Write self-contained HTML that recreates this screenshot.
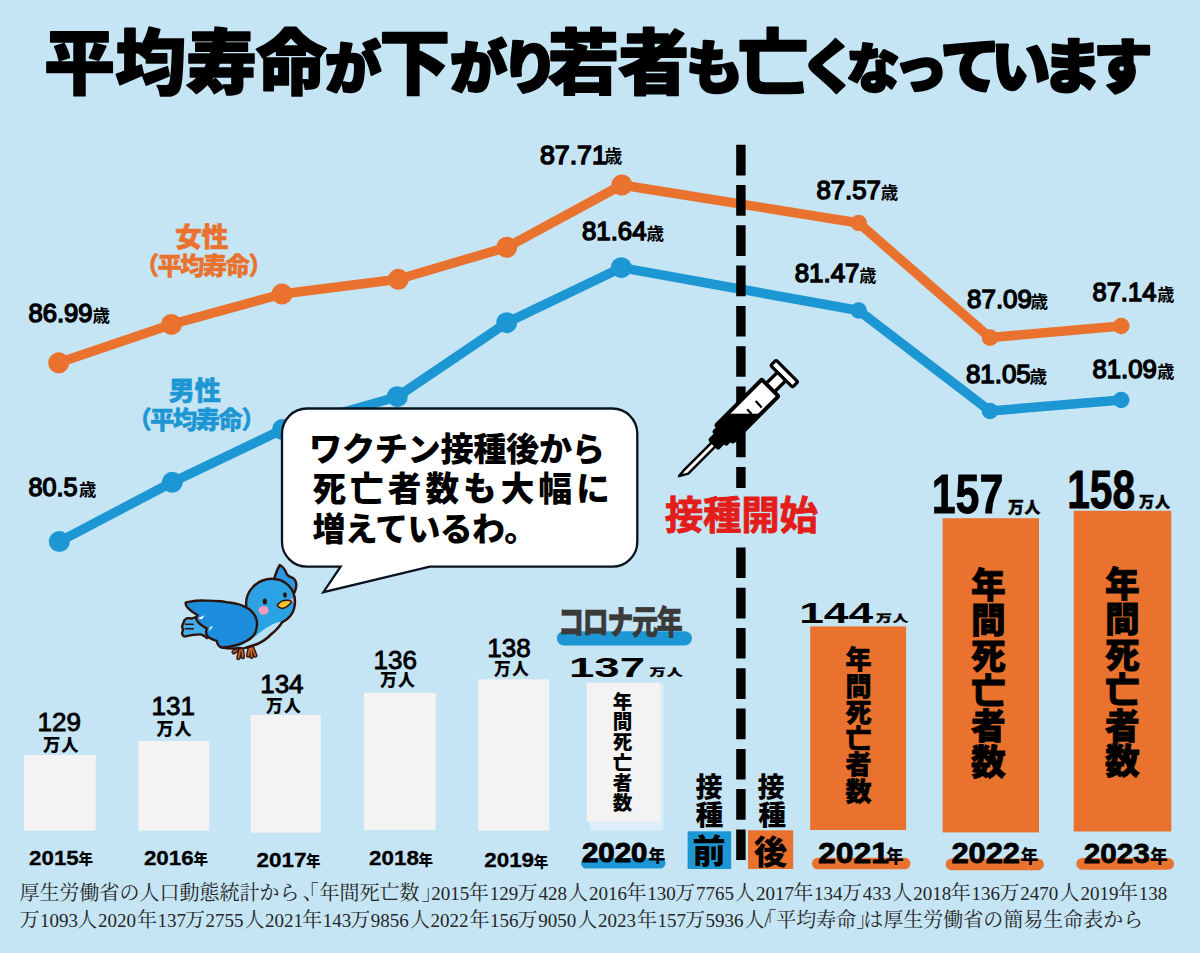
<!DOCTYPE html>
<html lang="ja"><head><meta charset="utf-8"><title>平均寿命と年間死亡者数</title><style>html,body{margin:0;padding:0;background:#c5e4f4;font-family:"Liberation Sans",sans-serif;overflow:hidden}svg{display:block}svg text{font-family:"Liberation Sans","Noto Sans CJK JP",sans-serif}svg text.s{font-family:"Liberation Serif","Noto Serif CJK SC",serif}</style></head><body><svg width="1200" height="953" viewBox="0 0 1200 953" role="img" aria-label="平均寿命と年間死亡者数のグラフ"><rect width="1200" height="953" fill="#c5e4f4"/><g fill="#000" stroke="#000" stroke-linejoin="round" font-weight="900"><text y="88.3" font-size="71" stroke-width="1.7"><tspan x="44.1">平</tspan><tspan x="115.3">均</tspan><tspan x="186.1">寿</tspan><tspan x="255.8">命</tspan><tspan x="324.9" font-size="56" stroke-width="2.5">が</tspan><tspan x="379.3">下</tspan><tspan x="449.9" font-size="57" stroke-width="2.5">が</tspan><tspan x="501.4" font-size="57" stroke-width="2.5">り</tspan><tspan x="548.1">若</tspan><tspan x="618.2">者</tspan><tspan x="686" font-size="57" stroke-width="2.5">も</tspan><tspan x="737.6">亡</tspan><tspan x="800" font-size="58" stroke-width="2.5">く</tspan><tspan x="846.6" font-size="53" stroke-width="2.4">な</tspan><tspan x="893.8" font-size="54" stroke-width="2.4">っ</tspan><tspan x="940.4" font-size="60" stroke-width="2.6">て</tspan><tspan x="991.2" font-size="59" stroke-width="2.6">い</tspan><tspan x="1042.6" font-size="59" stroke-width="2.6">ま</tspan><tspan x="1093.6" font-size="59" stroke-width="2.6">す</tspan></text></g><path d="M59.3 541.6L172.2 482.3L282.5 429.5L397.3 396.7L506.7 322.7L621.3 267.7L858.7 310.5L990.0 411.0L1121.2 400.0" fill="none" stroke="#1d97d3" stroke-width="9.5" stroke-linejoin="round" stroke-linecap="round"/><circle cx="59.3" cy="541.6" r="10.5" fill="#1d97d3"/><circle cx="172.2" cy="482.3" r="10.5" fill="#1d97d3"/><circle cx="282.5" cy="429.5" r="10.5" fill="#1d97d3"/><circle cx="397.3" cy="396.7" r="10.5" fill="#1d97d3"/><circle cx="506.7" cy="322.7" r="10.5" fill="#1d97d3"/><circle cx="621.3" cy="267.7" r="10.5" fill="#1d97d3"/><circle cx="858.7" cy="310.5" r="8.3" fill="#1d97d3"/><circle cx="990.0" cy="411.0" r="8.3" fill="#1d97d3"/><circle cx="1121.2" cy="400.0" r="8.3" fill="#1d97d3"/><path d="M58.7 362.8L171.4 324.4L282.0 294.0L398.3 279.3L506.7 247.3L621.8 185.0L858.7 223.0L990.0 337.6L1121.2 326.0" fill="none" stroke="#e9722e" stroke-width="9.5" stroke-linejoin="round" stroke-linecap="round"/><circle cx="58.7" cy="362.8" r="10.5" fill="#e9722e"/><circle cx="171.4" cy="324.4" r="10.5" fill="#e9722e"/><circle cx="282.0" cy="294.0" r="10.5" fill="#e9722e"/><circle cx="398.3" cy="279.3" r="10.5" fill="#e9722e"/><circle cx="506.7" cy="247.3" r="10.5" fill="#e9722e"/><circle cx="621.8" cy="185.0" r="10.5" fill="#e9722e"/><circle cx="858.7" cy="223.0" r="8.3" fill="#e9722e"/><circle cx="990.0" cy="337.6" r="8.3" fill="#e9722e"/><circle cx="1121.2" cy="326.0" r="8.3" fill="#e9722e"/><path d="M740.9 144.8V175.4M740.9 185.1V215.7M740.9 225.3V255.9M740.9 265.6V296.2M740.9 305.9V336.5M740.9 346.2V376.8M740.9 386.4V417.0M740.9 426.7V457.3M740.9 467.0V488.0M740.9 547.5V578.1M740.9 587.8V618.4M740.9 628.0V658.6M740.9 668.3V698.9M740.9 708.6V739.2M740.9 748.9V779.5M740.9 789.1V819.7M740.9 829.4V860.0" stroke="#000" stroke-width="9.4" fill="none"/><g fill="#000"><text x="28.5" y="322.1" font-size="25.6" stroke="#000" stroke-width="1.4">86.99</text><text x="92.6" y="322" font-size="17.5" font-weight="bold">歳</text><text x="28.5" y="496.3" font-size="25.2" stroke="#000" stroke-width="1.4">80.5</text><text x="78.9" y="496.2" font-size="17.4" font-weight="bold">歳</text><text x="540" y="163.5" font-size="26.7" stroke="#000" stroke-width="1.5">87.71</text><text x="604.4" y="163.4" font-size="17.8" font-weight="bold">歳</text><text x="582" y="240.4" font-size="25.8" stroke="#000" stroke-width="1.4">81.64</text><text x="646.5" y="240.3" font-size="17.6" font-weight="bold">歳</text><text x="816.4" y="198.7" font-size="25.8" stroke="#000" stroke-width="1.4">87.57</text><text x="880.8" y="198.6" font-size="17.5" font-weight="bold">歳</text><text x="794.7" y="281.8" font-size="25.9" stroke="#000" stroke-width="1.4">81.47</text><text x="859.2" y="281.7" font-size="17.2" font-weight="bold">歳</text><text x="967.1" y="308.1" font-size="25.9" stroke="#000" stroke-width="1.4">87.09</text><text x="1030.6" y="308" font-size="17.6" font-weight="bold">歳</text><text x="1092.5" y="301.1" font-size="25.5" stroke="#000" stroke-width="1.4">87.14</text><text x="1157.2" y="301" font-size="17.2" font-weight="bold">歳</text><text x="965.9" y="383.1" font-size="25.9" stroke="#000" stroke-width="1.4">81.05</text><text x="1029.6" y="383" font-size="17.6" font-weight="bold">歳</text><text x="1092.5" y="378.1" font-size="25.7" stroke="#000" stroke-width="1.4">81.09</text><text x="1157.2" y="378" font-size="17.2" font-weight="bold">歳</text></g><g fill="#e9722e" stroke="#e9722e" stroke-width="0.38" stroke-linejoin="round" font-weight="900"><text x="174.9" y="246.9" font-size="27" letter-spacing="-0.5">女性</text></g><g fill="#e9722e" stroke="#e9722e" stroke-width="0.35" stroke-linejoin="round" font-weight="900"><text x="134.7" y="275.3" font-size="24.6" letter-spacing="-1.9">（平均寿命）</text></g><g fill="#1d97d3" stroke="#1d97d3" stroke-width="0.37" stroke-linejoin="round" font-weight="900"><text x="168.6" y="399.6" font-size="26.4" letter-spacing="-0.5">男性</text></g><g fill="#1d97d3" stroke="#1d97d3" stroke-width="0.35" stroke-linejoin="round" font-weight="900"><text x="127.2" y="428.5" font-size="24.7" letter-spacing="-1.9">（平均寿命）</text></g><g transform="translate(783.9 374.1) rotate(135)"><path d="M96 -2.7L138 -2.7L146.3 2.0L139 2.7L96 2.7Z" fill="#fff" stroke="#000" stroke-width="2.5" stroke-linejoin="round"/><rect x="83" y="-10.5" width="9" height="21" rx="2.5" fill="#000"/><rect x="90" y="-7.5" width="10.5" height="15" rx="2.5" fill="#000"/><rect x="3" y="-5.9" width="17" height="11.8" fill="#fff" stroke="#000" stroke-width="3.4"/><rect x="-4.4" y="-15.4" width="7.6" height="30.8" rx="1.5" fill="#fff" stroke="#000" stroke-width="3.2" stroke-linejoin="round"/><rect x="19.5" y="-11.8" width="64.5" height="23.6" rx="1.2" fill="#fff" stroke="#000" stroke-width="4" stroke-linejoin="round"/></g><clipPath id="bar"><rect x="19.5" y="-11.8" width="64.5" height="23.6" transform="translate(783.9 374.1) rotate(135)"/></clipPath><rect x="690" y="413.7" width="120" height="80" fill="#000" clip-path="url(#bar)"/><path d="M755.7 401.1L761.7 407.5M747.1 409.3L751.6 413.9" stroke="#000" stroke-width="2.2" fill="none"/><path d="M307.0 408.5H612.3A25 25 0 0 1 637.3 433.5V541.7A25 25 0 0 1 612.3 566.7H429.8L323.4 592.2L340.6 566.7H307.0A25 25 0 0 1 282.0 541.7V433.5A25 25 0 0 1 307.0 408.5Z" fill="#fff" stroke="#08131f" stroke-width="2.3" stroke-linejoin="miter"/><g fill="#000" font-weight="900"><text x="309.1" y="460.5" font-size="33.2" letter-spacing="-0.35">ワクチン接種後から</text></g><g fill="#000" font-weight="900"><text x="312.4" y="500.8" font-size="33.6" letter-spacing="4.1">死亡者数も大幅に</text></g><g fill="#000" font-weight="900"><text x="312.5" y="540.7" font-size="32.9" letter-spacing="-0.65">増えているわ。</text></g>
<g transform="translate(160 540) scale(0.15)" stroke="#2e130a" stroke-width="16" stroke-linejoin="round" stroke-linecap="round">
 <path d="M535 712L492 748M538 716L523 786M545 716L552 780M600 712L588 770M605 714L611 778M612 712L635 770" stroke="#33160c" stroke-width="30" fill="none"/>
 <path d="M535 712L492 748M538 716L523 786M545 716L552 780M600 712L588 770M605 714L611 778M612 712L635 770" stroke="#c8682a" stroke-width="11" fill="none"/>
 <path d="M250 522C230 509 222 523 211 523C200 523 191 519 183 521C175 523 170 528 165 533C160 538 158 548 156 553C154 558 151 562 150 566C149 570 148 572 148 578C148 584 153 593 153 600C153 607 147 614 147 620C147 626 150 630 152 634C154 638 152 643 162 643C172 643 194 636 211 634C228 632 253 628 267 629C281 630 286 636 295 640C304 644 312 659 318 652C324 645 341 622 330 600C319 578 270 535 250 522Z" fill="#45adea"/>
 <path d="M170 561H222M168 592H222" fill="none" stroke-width="10"/>
 <path d="M760 262C772 222 786 186 799 167C822 180 836 201 845 228C858 246 880 250 891 257C905 270 910 291 908 310C906 325 902 338 897 350Z" fill="#2a97e2"/>
 <path d="M575 440C565 340 650 258 745 258C835 258 900 325 900 410C900 470 870 520 815 548C790 585 760 615 736 632C700 670 650 700 572 717C520 725 450 725 411 716C380 680 560 560 575 440Z" fill="#2aa2e4"/>
 <path d="M808 545C770 545 710 580 660 622C615 658 565 695 520 712C545 716 580 715 600 710C660 698 710 665 745 625C770 598 795 575 808 545Z" fill="#b9e1f6" stroke="none"/>
 <path d="M815 548C790 585 760 615 736 632C700 670 650 700 572 717" fill="none"/>
 <path d="M172 417C183 415 215 407 240 405C265 403 295 404 322 404C349 404 377 406 400 408C423 410 441 414 461 417C481 420 504 424 520 428C536 432 544 435 556 441C568 447 584 454 595 462C606 470 614 479 622 489C630 499 636 509 640 520C644 531 646 543 647 555C648 567 645 579 643 590C641 601 638 612 633 622C628 632 619 642 610 650C601 658 590 665 578 672C566 679 550 686 535 692C520 698 503 702 489 705C475 708 463 711 450 713C437 715 420 717 411 716C402 715 398 710 393 706C388 702 385 693 383 690L378 672C350 664 322 652 312 636C306 620 308 600 311 589C285 575 255 555 245 535C240 520 244 508 250 500C215 480 185 458 175 438C171 430 170 422 172 417Z" fill="#1c8edd"/>
 <path d="M253 521L296 502L280 528ZM325 612L354 574L334 580Z" fill="#fff" stroke="none"/>
 <ellipse cx="691" cy="469" rx="33" ry="29" fill="#f59bc0" stroke="none"/>
 <ellipse cx="880" cy="404" rx="11" ry="15" fill="#f59bc0" stroke="none"/>
 <ellipse cx="699" cy="410" rx="14" ry="20" fill="#2a1208" stroke="none"/>
 <ellipse cx="833" cy="367" rx="13" ry="18" fill="#2a1208" stroke="none"/>
 <path d="M781 435C795 418 805 410 815 406C835 400 855 400 868 404C874 406 878 409 877 413C868 428 855 440 841 448C830 454 822 457 812 456C798 452 786 445 781 435Z" fill="#f8c32a" stroke-width="10"/>
</g>
<g fill="#e21d1a" stroke="#e21d1a" stroke-width="0.8" stroke-linejoin="round" font-weight="bold"><text x="664.8" y="529.3" font-size="38.5" letter-spacing="-0.3">接種開始</text></g><g fill="#f3f3f3"><rect x="24.0" y="755.0" width="71.7" height="75.7"/><rect x="138.3" y="741.0" width="71.0" height="89.7"/><rect x="250.7" y="715.0" width="70.0" height="117.7"/><rect x="364.0" y="692.7" width="71.7" height="137.3"/><rect x="478.3" y="679.3" width="71.0" height="151.4"/></g><rect x="590" y="684" width="73.5" height="146.5" fill="#deeef8"/><rect x="586.7" y="682.7" width="73.3" height="139" fill="#f3f3f3"/><g fill="#e9722e"><rect x="810.2" y="626.4" width="95.9" height="203.6"/><rect x="942.6" y="518.2" width="96.4" height="314.2"/><rect x="1073.7" y="510.8" width="97.6" height="320.7"/></g><g fill="#000" stroke="#000" stroke-width="0.9"><text x="59.2" y="731.3" font-size="26" text-anchor="middle">129</text></g><g fill="#000" font-weight="900"><text x="43.1" y="751.1" font-size="17.4" letter-spacing="0.7">万人</text></g><g fill="#000" stroke="#000" stroke-width="0.9"><text x="173.2" y="715.3" font-size="26" text-anchor="middle">131</text></g><g fill="#000" font-weight="900"><text x="156.5" y="735.4" font-size="17.1" letter-spacing="0.8">万人</text></g><g fill="#000" stroke="#000" stroke-width="0.9"><text x="281.9" y="693" font-size="26" text-anchor="middle">134</text></g><g fill="#000" font-weight="900"><text x="266.1" y="711.5" font-size="16.8" letter-spacing="1.1">万人</text></g><g fill="#000" stroke="#000" stroke-width="0.9"><text x="395.2" y="669" font-size="26" text-anchor="middle">136</text></g><g fill="#000" font-weight="900"><text x="380.1" y="686.4" font-size="17" letter-spacing="0.9">万人</text></g><g fill="#000" stroke="#000" stroke-width="0.9"><text x="509" y="657" font-size="26" text-anchor="middle">138</text></g><g fill="#000" font-weight="900"><text x="494.1" y="675.2" font-size="16.8" letter-spacing="1.1">万人</text></g><path d="M564.1 638.4H684.7" stroke="#1d97d3" stroke-width="14.4" stroke-linecap="round"/><g fill="#3a3a3a" stroke="#3a3a3a" stroke-width="0.5" font-weight="900"><text transform="translate(557.93 633.81) scale(0.783 1)" font-size="33.5" letter-spacing="-2">コロナ元年</text></g><text x="569" y="676.9" font-size="28" font-weight="bold" textLength="76" lengthAdjust="spacingAndGlyphs">137</text><g fill="#000" stroke="#000" stroke-width="0.25" font-weight="900"><text transform="translate(649.52 676.36) scale(1.569 1)" font-size="10.25" letter-spacing="0.8">万人</text></g><g fill="#000" font-weight="900"><text font-size="19.5"><tspan x="612.75" y="709.05">年</tspan><tspan x="612.75" y="729.23">間</tspan><tspan x="612.75" y="749.41">死</tspan><tspan x="612.75" y="769.58">亡</tspan><tspan x="612.75" y="789.76">者</tspan><tspan x="612.75" y="809.94">数</tspan></text></g><path d="M586.3 863.3H660.2" stroke="#1d97d3" stroke-width="10.5" stroke-linecap="round"/><g fill="#000" stroke="#000" stroke-width="1" font-weight="bold"><text x="582" y="861.8" font-size="28.5" textLength="65.3" lengthAdjust="spacingAndGlyphs">2020</text></g><text x="648.2" y="861.7" font-size="17" font-weight="900">年</text><text x="799.2" y="623.4" font-size="29" font-weight="bold" textLength="74" lengthAdjust="spacingAndGlyphs">144</text><g fill="#000" stroke="#000" stroke-width="0.25" font-weight="900"><text transform="translate(876.03 622.27) scale(1.568 1)" font-size="10.14" letter-spacing="0.4">万人</text></g><g fill="#000" stroke="#000" stroke-width="0.9" font-weight="bold"><text transform="translate(931.66 513.37) scale(0.7845 1)" font-size="54.7">157</text></g><g fill="#000" stroke="#000" stroke-width="0.4" font-weight="900"><text x="1008" y="512.5" font-size="15.8" letter-spacing="0.7">万人</text></g><g fill="#000" stroke="#000" stroke-width="0.9" font-weight="bold"><text transform="translate(1067.22 507.87) scale(0.755 1)" font-size="53.8">158</text></g><g fill="#000" stroke="#000" stroke-width="0.4" font-weight="900"><text x="1139" y="506.6" font-size="15.2" letter-spacing="0.75">万人</text></g><g stroke="#000" stroke-width="0.57"><g fill="#000" font-weight="900"><text font-size="26"><tspan x="845.5" y="669.29">年</tspan><tspan x="845.5" y="695.55">間</tspan><tspan x="845.5" y="721.8">死</tspan><tspan x="845.5" y="748.06">亡</tspan><tspan x="845.5" y="774.31">者</tspan><tspan x="845.5" y="800.57">数</tspan></text></g></g><g stroke="#000" stroke-width="0.76"><g fill="#000" font-weight="900"><text font-size="34.7"><tspan x="970.9" y="597.79">年</tspan><tspan x="970.9" y="633.15">間</tspan><tspan x="970.9" y="668.5">死</tspan><tspan x="970.9" y="703.85">亡</tspan><tspan x="970.9" y="739.2">者</tspan><tspan x="970.9" y="774.55">数</tspan></text></g></g><g stroke="#000" stroke-width="0.76"><g fill="#000" font-weight="900"><text font-size="34.7"><tspan x="1105" y="596.99">年</tspan><tspan x="1105" y="632.41">間</tspan><tspan x="1105" y="667.82">死</tspan><tspan x="1105" y="703.23">亡</tspan><tspan x="1105" y="738.64">者</tspan><tspan x="1105" y="774.05">数</tspan></text></g></g><g fill="#000" stroke="#000" stroke-width="0.3" font-weight="bold"><text x="29.1" y="864.5" font-size="21" textLength="49.7" lengthAdjust="spacingAndGlyphs">2015</text></g><text x="78.6" y="864.2" font-size="14.5" font-weight="900">年</text><g fill="#000" stroke="#000" stroke-width="0.3" font-weight="bold"><text x="143.9" y="864.5" font-size="21" textLength="49.9" lengthAdjust="spacingAndGlyphs">2016</text></g><text x="193.4" y="864.2" font-size="14.5" font-weight="900">年</text><g fill="#000" stroke="#000" stroke-width="0.3" font-weight="bold"><text x="256.4" y="866.7" font-size="21" textLength="50" lengthAdjust="spacingAndGlyphs">2017</text></g><text x="305.9" y="866.4" font-size="14.5" font-weight="900">年</text><g fill="#000" stroke="#000" stroke-width="0.3" font-weight="bold"><text x="369.1" y="864.9" font-size="21" textLength="49.8" lengthAdjust="spacingAndGlyphs">2018</text></g><text x="418.6" y="864.6" font-size="14.5" font-weight="900">年</text><g fill="#000" stroke="#000" stroke-width="0.3" font-weight="bold"><text x="484.2" y="867" font-size="21" textLength="49.9" lengthAdjust="spacingAndGlyphs">2019</text></g><text x="533.7" y="866.7" font-size="14.5" font-weight="900">年</text><path d="M817.8 863.5H904.6" stroke="#e9722e" stroke-width="11.7" stroke-linecap="round"/><g fill="#000" stroke="#000" stroke-width="0.8" font-weight="bold"><text x="818" y="862.6" font-size="29" textLength="71.1" lengthAdjust="spacingAndGlyphs">2021</text></g><text x="886.1" y="862.6" font-size="17.7" font-weight="900">年</text><path d="M951.5 864.4H1038.0" stroke="#e9722e" stroke-width="11.7" stroke-linecap="round"/><g fill="#000" stroke="#000" stroke-width="0.8" font-weight="bold"><text x="951.4" y="862.6" font-size="29" textLength="68.6" lengthAdjust="spacingAndGlyphs">2022</text></g><text x="1020.4" y="862.6" font-size="17.7" font-weight="900">年</text><path d="M1082.1 863.9H1168.2" stroke="#e9722e" stroke-width="11.7" stroke-linecap="round"/><g fill="#000" stroke="#000" stroke-width="0.76" font-weight="bold"><text x="1083.7" y="862.6" font-size="28.5" textLength="66" lengthAdjust="spacingAndGlyphs">2023</text></g><text x="1150.1" y="862.6" font-size="17.7" font-weight="900">年</text><rect x="687.6" y="831.3" width="43.6" height="37.7" fill="#1d97d3"/><rect x="748" y="830.3" width="45.2" height="38.7" fill="#e9722e"/><text x="692.5" y="863.4" font-size="33" font-weight="900">前</text><text x="753.8" y="863.5" font-size="33.5" font-weight="900">後</text><text x="695.5" y="797.4" font-size="27" font-weight="900">接</text><text x="695.6" y="825.4" font-size="27.8" font-weight="900">種</text><text x="757.5" y="797" font-size="27" font-weight="900">接</text><text x="758.2" y="824.8" font-size="27.8" font-weight="900">種</text><g fill="#262626"><text class="s" y="900" font-size="20"><tspan x="19.5">厚生労働省の人口動態統計から</tspan><tspan x="302.8">、</tspan><tspan x="298.8">「</tspan><tspan x="319.6">年間死亡数</tspan><tspan x="421.7">」</tspan><tspan x="431.3" font-size="19">2015</tspan><tspan x="468.8">年</tspan><tspan x="489.7" font-size="19">129</tspan><tspan x="517.5">万</tspan><tspan x="538.4" font-size="19">428</tspan><tspan x="568">人</tspan><tspan x="588.9" font-size="19">2016</tspan><tspan x="626.4">年</tspan><tspan x="647.3" font-size="19">130</tspan><tspan x="675.1">万</tspan><tspan x="695.9" font-size="19">7765</tspan><tspan x="735.1">人</tspan><tspan x="755.9" font-size="19">2017</tspan><tspan x="793.3">年</tspan><tspan x="814.1" font-size="19">134</tspan><tspan x="841.9">万</tspan><tspan x="862.8" font-size="19">433</tspan><tspan x="892.4">人</tspan><tspan x="913.2" font-size="19">2018</tspan><tspan x="950.8">年</tspan><tspan x="971.6" font-size="19">136</tspan><tspan x="999.4">万</tspan><tspan x="1020.3" font-size="19">2470</tspan><tspan x="1059.5">人</tspan><tspan x="1080.4" font-size="19">2019</tspan><tspan x="1117.9">年</tspan><tspan x="1138.8" font-size="19">138</tspan></text></g><g fill="#262626"><text class="s" y="926.6" font-size="20"><tspan x="19.5">万</tspan><tspan x="40.1" font-size="19">1093</tspan><tspan x="77.3">人</tspan><tspan x="97.9" font-size="19">2020</tspan><tspan x="137">年</tspan><tspan x="157.5" font-size="19">137</tspan><tspan x="184.9">万</tspan><tspan x="205.4" font-size="19">2755</tspan><tspan x="244.4">人</tspan><tspan x="265" font-size="19">2021</tspan><tspan x="302.2">年</tspan><tspan x="322.7" font-size="19">143</tspan><tspan x="350.2">万</tspan><tspan x="370.8" font-size="19">9856</tspan><tspan x="409.9">人</tspan><tspan x="430.5" font-size="19">2022</tspan><tspan x="469.6">年</tspan><tspan x="490.1" font-size="19">156</tspan><tspan x="517.6">万</tspan><tspan x="538.2" font-size="19">9050</tspan><tspan x="577.3">人</tspan><tspan x="597.9" font-size="19">2023</tspan><tspan x="636.9">年</tspan><tspan x="657.5" font-size="19">157</tspan><tspan x="684.9">万</tspan><tspan x="705.4" font-size="19">5936</tspan><tspan x="744.6">人</tspan><tspan x="764.2">/</tspan><tspan x="756.6">「</tspan><tspan x="776.2">平均寿命</tspan><tspan x="856.3">」</tspan><tspan x="863.3">は厚生労働省の簡易生命表から</tspan></text></g></svg></body></html>
